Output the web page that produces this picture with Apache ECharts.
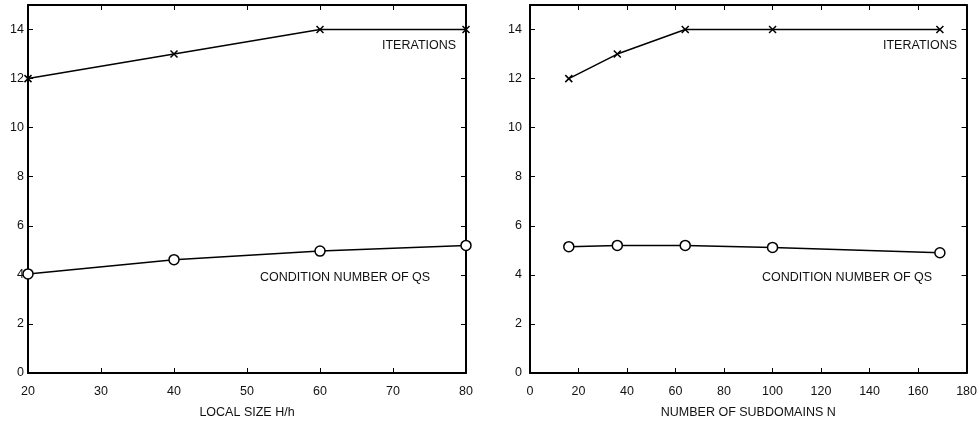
<!DOCTYPE html>
<html><head><meta charset="utf-8">
<script src="https://cdn.jsdelivr.net/npm/echarts@6/dist/echarts.min.js"></script>
<style>html,body{margin:0;padding:0;background:#fff}#c{width:980px;height:424px}</style>
</head><body><div id="c"></div>
<script>
const leftX = [20, 40, 60, 80];
const leftIter = [12, 13, 14, 14];
const leftCond = [4.04, 4.62, 4.97, 5.2];
const rightX = [16, 36, 64, 100, 169];
const rightIter = [12, 13, 14, 14, 14];
const rightCond = [5.15, 5.2, 5.2, 5.12, 4.9];
const yTicks = [0, 2, 4, 6, 8, 10, 12, 14];
const leftXName = 'LOCAL SIZE H/h';
const rightXName = 'NUMBER OF SUBDOMAINS N';
const labelIter = 'ITERATIONS';
const labelCond = 'CONDITION NUMBER OF QS';

const FONT = 'Liberation Sans, Arial, sans-serif';
const FS = 12.5;
const TXT = '#111';
const crossPath = 'path://M0,0L10,10M10,0L0,10';
const axisLineStyle = {color: '#000', width: 2};
function xAx(grid, min, max, interval, name, top) {
  return {
    type: 'value', gridIndex: grid, min: min, max: max, interval: interval,
    position: top ? 'top' : 'bottom',
    name: top ? '' : name, nameLocation: 'middle', nameGap: 33,
    nameTextStyle: {fontFamily: FONT, fontSize: FS, color: TXT},
    axisLine: {show: true, lineStyle: axisLineStyle, onZero: false},
    axisTick: {show: true, inside: true, length: 5, lineStyle: {color: '#000', width: 1}},
    axisLabel: {show: !top, margin: 12, fontFamily: FONT, fontSize: FS, color: TXT},
    splitLine: {show: false}
  };
}
function yAx(grid, right, margin) {
  return {
    type: 'value', gridIndex: grid, min: 0, max: 15, interval: 2,
    position: right ? 'right' : 'left',
    axisLine: {show: true, lineStyle: axisLineStyle, onZero: false},
    axisTick: {show: true, inside: true, length: 5, lineStyle: {color: '#000', width: 1},
      customValues: yTicks},
    axisLabel: {show: !right, margin: margin, fontFamily: FONT, fontSize: FS, color: TXT,
      customValues: yTicks},
    splitLine: {show: false}
  };
}
function zip(a, b) { return a.map((v, i) => [v, b[i]]); }
function iterSeries(x, y, xi, yi) {
  return {
    type: 'line', xAxisIndex: xi, yAxisIndex: yi, data: zip(x, y),
    symbol: crossPath, symbolSize: 7, showSymbol: true,
    lineStyle: {color: '#000', width: 1.5},
    itemStyle: {color: 'none', borderColor: '#000', borderWidth: 1.5},
    animation: false, z: 3
  };
}
function condSeries(x, y, xi, yi) {
  return {
    type: 'line', xAxisIndex: xi, yAxisIndex: yi, data: zip(x, y),
    symbol: 'circle', symbolSize: 10, showSymbol: true,
    lineStyle: {color: '#000', width: 1.5},
    itemStyle: {color: '#fff', borderColor: '#000', borderWidth: 1.5},
    animation: false, z: 3
  };
}
const chart = echarts.init(document.getElementById('c'));
chart.setOption({
  backgroundColor: '#fff',
  animation: false,
  grid: [
    {left: 28, top: 5, width: 438, height: 368},
    {left: 530, top: 5, width: 439, height: 368}
  ],
  xAxis: [
    xAx(0, 20, 80, 10, leftXName, false),
    xAx(0, 20, 80, 10, leftXName, true),
    xAx(1, 0, 180, 20, rightXName, false),
    xAx(1, 0, 180, 20, rightXName, true)
  ],
  yAxis: [
    yAx(0, false, 4),
    yAx(0, true, 4),
    yAx(1, false, 8),
    yAx(1, true, 8)
  ],
  series: [
    iterSeries(leftX, leftIter, 0, 0),
    condSeries(leftX, leftCond, 0, 0),
    iterSeries(rightX, rightIter, 2, 2),
    condSeries(rightX, rightCond, 2, 2)
  ],
  graphic: [
    {type: 'text', left: 382, top: 39, style: {text: labelIter, font: FS + 'px ' + FONT, fill: TXT}},
    {type: 'text', left: 883, top: 39, style: {text: labelIter, font: FS + 'px ' + FONT, fill: TXT}},
    {type: 'text', left: 260, top: 271, style: {text: labelCond, font: FS + 'px ' + FONT, fill: TXT}},
    {type: 'text', left: 762, top: 271, style: {text: labelCond, font: FS + 'px ' + FONT, fill: TXT}}
  ]
});
</script></body></html>
